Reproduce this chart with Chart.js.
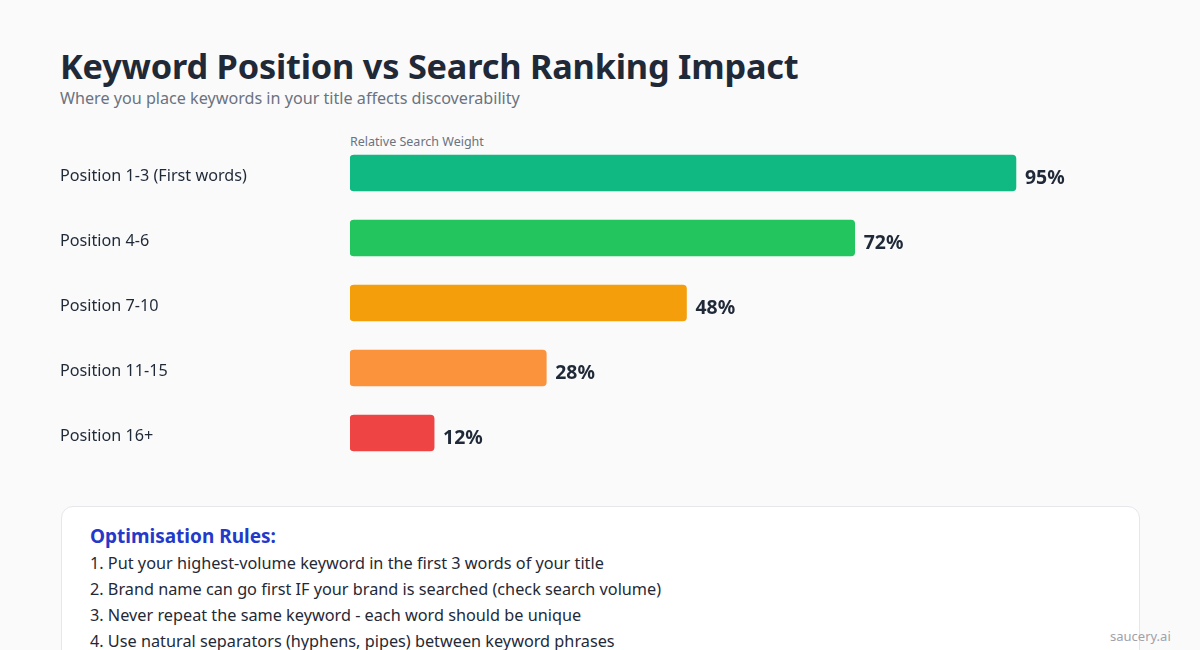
<!DOCTYPE html>
<html><head><meta charset="utf-8">
<script src="https://cdn.jsdelivr.net/npm/chart.js@4.4.1/dist/chart.umd.min.js"></script>
<style>
html,body{margin:0;padding:0;background:#fafafa;width:1200px;height:650px;overflow:hidden;font-family:"Noto Sans",sans-serif;}
#title{position:absolute;left:60px;top:41px;font-size:34.3px;font-weight:700;color:#1f2937;line-height:50px;white-space:nowrap;letter-spacing:-0.2px}
#sub{position:absolute;left:60px;top:87px;font-size:16.15px;color:#6b7280;line-height:22px;white-space:nowrap}
#axt{position:absolute;left:350px;top:133px;font-size:12.5px;color:#6b7280;line-height:18px}
#wrap{position:absolute;left:60px;top:130px;width:1080px;height:350px}
#box{position:absolute;left:61px;top:506px;width:1079px;height:200px;background:#fff;border:1px solid #e5e7eb;border-radius:12px;box-sizing:border-box;padding:16px 28px}
#box h3{margin:0;font-size:19px;font-weight:700;color:#2439c9;line-height:26px}
#box div{font-size:16.25px;color:#1f2937;line-height:26px;white-space:nowrap;position:relative;top:1px}
#wm{position:absolute;left:1110px;top:627px;font-size:13px;color:#a1a1aa;line-height:18px}
</style></head>
<body>
<div id="title">Keyword Position vs Search Ranking Impact</div>
<div id="sub">Where you place keywords in your title affects discoverability</div>
<div id="axt">Relative Search Weight</div>
<div id="wrap"><canvas id="c"></canvas></div>
<div id="box">
<h3>Optimisation Rules:</h3>
<div>1. Put your highest-volume keyword in the first 3 words of your title</div>
<div>2. Brand name can go first IF your brand is searched (check search volume)</div>
<div>3. Never repeat the same keyword - each word should be unique</div>
<div>4. Use natural separators (hyphens, pipes) between keyword phrases</div>
</div>
<div id="wm">saucery.ai</div>
<script>
const categories = ["Position 1-3 (First words)","Position 4-6","Position 7-10","Position 11-15","Position 16+"];
const weights = [95,72,48,28,12];
const barColors = ["#10b981","#22c55e","#f59e0b","#fb923c","#ef4444"];

const valueLabels = {
  id:'valueLabels',
  afterDatasetsDraw(chart){
    const ctx = chart.ctx;
    const meta = chart.getDatasetMeta(0);
    ctx.save();
    ctx.font = '700 19.4px "Noto Sans"';
    ctx.fillStyle = '#1f2937';
    ctx.textAlign = 'left';
    ctx.textBaseline = 'middle';
    meta.data.forEach((bar,i)=>{
      ctx.fillText(weights[i]+'%', bar.x+9, bar.y+5);
    });
    ctx.restore();
  }
};

new Chart(document.getElementById('c'),{
  type:'bar',
  data:{labels:categories,datasets:[{data:weights,backgroundColor:barColors,borderRadius:4,borderSkipped:false,barThickness:36}]},
  options:{
    indexAxis:'y',responsive:true,maintainAspectRatio:false,animation:false,
    layout:{padding:{top:10.5,bottom:14.5,right:89,left:0}},
    plugins:{legend:{display:false},tooltip:{enabled:false}},
    scales:{
      x:{display:false,min:0,max:100},
      y:{
        grid:{display:false},border:{display:false},
        ticks:{crossAlign:'far',color:'#1f2937',font:{family:'"Noto Sans"',size:16.2},padding:0,labelOffset:3},
        afterFit(s){s.width=290;}
      }
    }
  },
  plugins:[valueLabels]
});
</script>
</body></html>
